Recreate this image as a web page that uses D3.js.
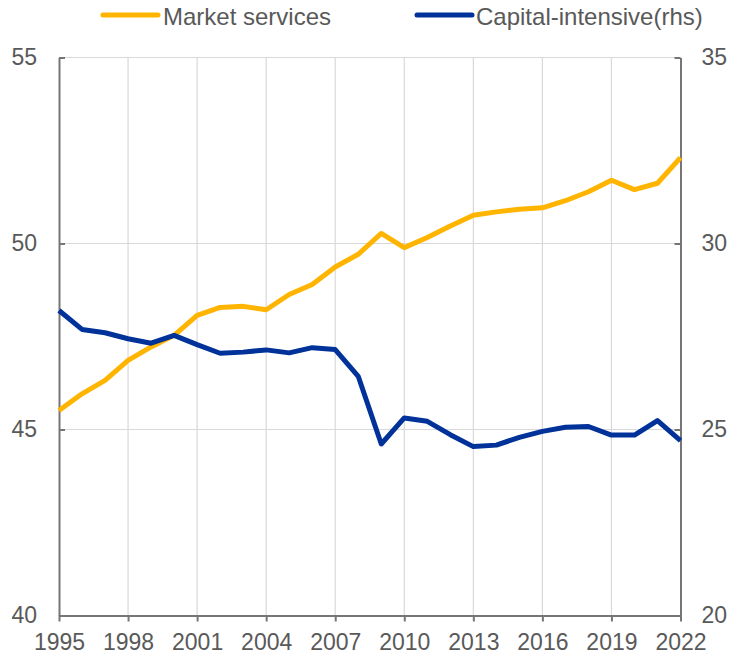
<!DOCTYPE html>
<html>
<head>
<meta charset="utf-8">
<script src="https://cdn.jsdelivr.net/npm/d3@7/dist/d3.min.js"></script>
<style>
  html, body { margin: 0; padding: 0; background: #ffffff; }
  svg { display: block; font-family: "Liberation Sans", Arial, sans-serif; }
</style>
</head>
<body>
<svg id="chart" width="730" height="653"></svg>
<script>
const years = [1995,1996,1997,1998,1999,2000,2001,2002,2003,2004,2005,2006,2007,2008,2009,2010,2011,2012,2013,2014,2015,2016,2017,2018,2019,2020,2021,2022];
const marketServices = [45.51,45.96,46.32,46.86,47.22,47.53,48.07,48.28,48.31,48.22,48.63,48.90,49.37,49.71,50.27,49.89,50.16,50.47,50.76,50.85,50.92,50.96,51.15,51.39,51.70,51.45,51.62,52.31];
const capitalIntensive = [28.20,27.69,27.60,27.44,27.32,27.53,27.28,27.05,27.08,27.14,27.06,27.20,27.15,26.43,24.61,25.31,25.22,24.86,24.54,24.58,24.79,24.95,25.06,25.08,24.85,24.85,25.24,24.70];
const leftTicks = [40,45,50,55];
const rightTicks = [20,25,30,35];
const xTickYears = [1995,1998,2001,2004,2007,2010,2013,2016,2019,2022];
const seriesNames = ["Market services","Capital-intensive(rhs)"];
const seriesColors = ["#FFB400","#003299"];

const svg = d3.select("#chart");
const x0 = 59, x1 = 680.5, yTop = 57.5, yBot = 615.5;
const x = d3.scaleLinear().domain([1995,2022]).range([x0,x1]);
const yL = d3.scaleLinear().domain([40,55]).range([yBot,yTop]);
const yR = d3.scaleLinear().domain([20,35]).range([yBot,yTop]);
const axisColor = "#767676", gridColor = "#d9d9d9", textColor = "#595959";

// gridlines
svg.append("g").selectAll("line.h").data(leftTicks.filter(d => d > 40)).join("line")
  .attr("x1", x0).attr("x2", x1).attr("y1", d => yL(d)).attr("y2", d => yL(d))
  .attr("stroke", gridColor).attr("stroke-width", 1.2);
svg.append("g").selectAll("line.v").data(xTickYears.filter(d => d > 1995 && d < 2022)).join("line")
  .attr("x1", d => x(d)).attr("x2", d => x(d)).attr("y1", yTop).attr("y2", yBot)
  .attr("stroke", gridColor).attr("stroke-width", 1.2);

// axes
const gL = svg.append("g").attr("transform", `translate(${x0},0)`)
  .call(d3.axisLeft(yL).tickValues(leftTicks).tickSizeInner(-6).tickSizeOuter(0).tickPadding(22));
const gR = svg.append("g").attr("transform", `translate(${x1},0)`)
  .call(d3.axisRight(yR).tickValues(rightTicks).tickSizeInner(-6).tickSizeOuter(0).tickPadding(21));
const gB = svg.append("g").attr("transform", `translate(0,${yBot})`)
  .call(d3.axisBottom(x).tickValues(xTickYears).tickFormat(d3.format("d")).tickSizeInner(6).tickSizeOuter(0).tickPadding(12));

[gL, gR, gB].forEach(g => {
  g.select(".domain").attr("stroke", axisColor).attr("stroke-width", 2);
  g.selectAll(".tick line").attr("stroke", axisColor).attr("stroke-width", 2);
  g.selectAll(".tick text").attr("fill", textColor).attr("font-size", 23)
    .attr("font-family", "'Liberation Sans', Arial, sans-serif");
});
gB.selectAll(".tick text").attr("dy", "0.71em");

// lines
const lineL = d3.line().x((d,i) => x(years[i])).y(d => yL(d));
const lineR = d3.line().x((d,i) => x(years[i])).y(d => yR(d));
svg.append("path").datum(marketServices).attr("d", lineL)
  .attr("fill", "none").attr("stroke", seriesColors[0]).attr("stroke-width", 5).attr("stroke-linejoin", "round");
svg.append("path").datum(capitalIntensive).attr("d", lineR)
  .attr("fill", "none").attr("stroke", seriesColors[1]).attr("stroke-width", 5).attr("stroke-linejoin", "round");

// legend
const legendItems = [{x: 103, tx: 163}, {x: 417, tx: 476}];
legendItems.forEach((it, i) => {
  svg.append("line").attr("x1", it.x).attr("x2", it.x + 55).attr("y1", 15).attr("y2", 15)
    .attr("stroke", seriesColors[i]).attr("stroke-width", 5).attr("stroke-linecap", "round");
  svg.append("text").attr("x", it.tx).attr("y", 24.5).attr("fill", textColor)
    .attr("font-size", 24).text(seriesNames[i]);
});
</script>
</body>
</html>
